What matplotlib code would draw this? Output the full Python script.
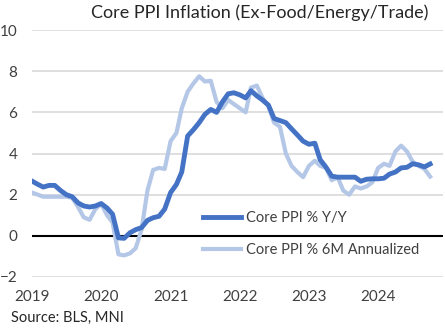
import matplotlib
matplotlib.use("Agg")
import matplotlib.pyplot as plt
import matplotlib.dates as mdates
import pandas as pd

dates = pd.date_range("2019-01-01", periods=70, freq="MS")

yoy = [2.66, 2.5, 2.37, 2.45, 2.45, 2.2, 2.0, 1.9, 1.6, 1.45, 1.4, 1.45,
       1.57, 1.35, 1.05, -0.1, -0.12, 0.15, 0.3, 0.4, 0.75, 0.88, 0.95, 1.3,
       2.1, 2.5, 3.1, 4.85, 5.15, 5.5, 5.9, 6.14, 6.0, 6.5, 6.9, 6.95,
       6.85, 6.7, 7.05, 6.8, 6.6, 6.35, 5.7, 5.6, 5.5, 5.2, 4.9, 4.6,
       4.45, 4.5, 3.7, 3.33, 2.9, 2.85, 2.85, 2.85, 2.85, 2.65, 2.75, 2.77,
       2.77, 2.8, 3.0, 3.1, 3.3, 3.33, 3.5, 3.45, 3.35, 3.49]

ann6m = [2.1, 2.0, 1.9, 1.9, 1.9, 1.9, 1.9, 1.85, 1.4, 0.9, 0.78, 1.3,
         1.55, 1.0, 0.65, -0.9, -0.95, -0.85, -0.6, 0.3, 2.2, 3.2, 3.3, 3.25,
         4.6, 5.0, 6.2, 7.0, 7.4, 7.75, 7.5, 7.53, 6.5, 6.2, 6.6, 6.4,
         6.2, 6.0, 7.2, 7.3, 6.7, 6.3, 5.5, 5.3, 4.0, 3.4, 3.1, 2.85,
         3.4, 3.65, 3.4, 3.3, 2.7, 2.85, 2.2, 2.0, 2.4, 2.3, 2.4, 2.6,
         3.3, 3.5, 3.4, 4.1, 4.38, 4.1, 3.6, 3.4, 3.25, 2.88]

title = "Core PPI Inflation (Ex-Food/Energy/Trade)"
labels = ["Core PPI % Y/Y", "Core PPI % 6M Annualized"]
source = "Source: BLS, MNI"

plt.rcParams['font.family'] = ['Lato', 'DejaVu Sans']

fig = plt.figure(figsize=(4.45, 3.28), dpi=100)
W, H = 445, 328
ax = fig.add_axes([32 / W, 1 - 277 / H, (443 - 32) / W, (277 - 30) / H])

ax.plot(dates, ann6m, color="#B4C7E7", lw=3.0, label=labels[1], zorder=3,
        solid_joinstyle="round")
ax.plot(dates, yoy, color="#4472C4", lw=3.5, label=labels[0], zorder=4,
        solid_joinstyle="round")
ax.axhline(0, color="black", lw=1.5, zorder=2)

ax.set_ylim(-2, 10)
ax.set_yticks([-2, 0, 2, 4, 6, 8, 10])
ax.set_xlim(pd.Timestamp("2019-01-01"), pd.Timestamp("2024-12-08"))
ax.xaxis.set_major_locator(mdates.YearLocator())
ax.xaxis.set_major_formatter(mdates.DateFormatter("%Y"))

ax.grid(axis="y", color="#D9D9D9", lw=1.2, zorder=1)
for s in ax.spines.values():
    s.set_visible(False)
ax.tick_params(axis="both", length=0, labelsize=11, colors="#404040")
ax.tick_params(axis="y", pad=10.5)
ax.tick_params(axis="x", pad=9.5)

h, l = ax.get_legend_handles_labels()
leg = ax.legend(h[::-1], l[::-1], loc="lower left",
                bbox_to_anchor=((197 - 32) / (443 - 32), (277 - 263) / (277 - 30)),
                frameon=False, fontsize=10.5, handlelength=2.6, handletextpad=0.35,
                labelspacing=1.25, borderaxespad=0)
for t in leg.get_texts():
    t.set_color("#404040")

fig.text(260 / W, 1 - 13 / H, title, ha="center", va="center", fontsize=13,
         color="#262626")
fig.text(11 / W, 1 - 318 / H, source, ha="left", va="center", fontsize=10.5,
         color="#262626")

fig.savefig("out.png", dpi=100)
